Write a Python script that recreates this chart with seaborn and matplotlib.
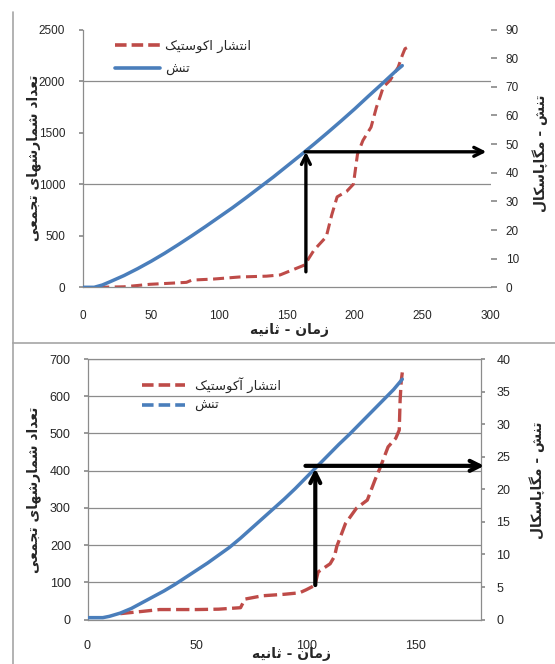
import matplotlib
matplotlib.use("Agg")
import matplotlib.pyplot as plt
import seaborn as sns
from matplotlib.lines import Line2D

# ---- data ----
# top test: time (s), stress (MPa) and cumulative AE counts
top_time_stress = [0, 8, 14, 20, 30, 40, 50, 60, 70, 80, 90, 100, 110, 120, 130, 140,
                   150, 160, 170, 180, 190, 200, 210, 220, 230, 235]
top_stress = [0, 0, 0.8, 2.0, 4.1, 6.5, 9.1, 11.9, 14.9, 18.0, 21.2, 24.5, 27.8, 31.3,
              34.9, 38.5, 42.3, 46.1, 50.0, 54.0, 58.1, 62.3, 66.7, 71.0, 75.4, 77.4]
top_time_ae = [11, 30, 49, 62, 76, 80, 96, 115, 135, 145, 157, 163, 170, 179, 183, 187,
               194, 199, 202, 206, 212, 216, 219, 221, 226, 232, 235, 237, 242]
top_counts = [0, 5, 29, 38, 48, 70, 80, 100, 108, 120, 184, 216, 361, 490, 700, 877,
              930, 1000, 1290, 1424, 1553, 1747, 1860, 1942, 2007, 2135, 2249, 2314, 2346]

# bottom test
bot_time_stress = [0, 7, 10, 15, 20, 25, 30, 35, 40, 45, 50, 55, 60, 65, 70, 75, 80, 85,
                   90, 95, 100, 105, 110, 115, 120, 125, 130, 135, 140, 144]
bot_stress = [0.3, 0.3, 0.5, 1.0, 1.7, 2.6, 3.5, 4.4, 5.4, 6.5, 7.6, 8.7, 9.9, 11.1, 12.5,
              14.0, 15.5, 17.0, 18.5, 20.1, 21.8, 23.5, 25.2, 26.9, 28.5, 30.2, 31.9,
              33.6, 35.3, 36.9]
bot_time_ae = [15, 25, 33, 50, 60, 70, 72, 80, 90, 97, 100, 104, 105.5, 111, 113, 114,
               118, 123, 128, 131.5, 134, 137.5, 141, 142.6, 143, 143.5, 144]
bot_counts = [16, 22, 27, 27, 28, 32, 55, 64, 68, 72, 80, 92, 128, 150, 170, 196,
              258, 299, 321, 375, 410, 464, 487, 509, 589, 640, 664]

# arrows: (time, stress at base, stress at tip, time at right end)
top_arrow = (164, 5.4, 47.3, 297)
bot_arrow = (104.2, 5.3, 23.2, 181.5)

# labels (logical order, shaped below)
lbl_ae = "انتشار اکوستیک"
lbl_ae2 = "انتشار آکوستیک"
lbl_stress = "تنش"
lbl_counts = "تعداد شمارشهای تجمعی"
lbl_stress_axis = "تنش - مگاپاسکال"
lbl_time = "زمان - ثانیه"

# isolated, final, initial, medial presentation forms
FORMS = {
    "ا": ("\uFE8D", "\uFE8E", None, None),
    "آ": ("\uFE81", "\uFE82", None, None),
    "ت": ("\uFE95", "\uFE96", "\uFE97", "\uFE98"),
    "ث": ("\uFE99", "\uFE9A", "\uFE9B", "\uFE9C"),
    "ج": ("\uFE9D", "\uFE9E", "\uFE9F", "\uFEA0"),
    "د": ("\uFEA9", "\uFEAA", None, None),
    "ر": ("\uFEAD", "\uFEAE", None, None),
    "ز": ("\uFEAF", "\uFEB0", None, None),
    "س": ("\uFEB1", "\uFEB2", "\uFEB3", "\uFEB4"),
    "ش": ("\uFEB5", "\uFEB6", "\uFEB7", "\uFEB8"),
    "ع": ("\uFEC9", "\uFECA", "\uFECB", "\uFECC"),
    "ل": ("\uFEDD", "\uFEDE", "\uFEDF", "\uFEE0"),
    "م": ("\uFEE1", "\uFEE2", "\uFEE3", "\uFEE4"),
    "ن": ("\uFEE5", "\uFEE6", "\uFEE7", "\uFEE8"),
    "ه": ("\uFEE9", "\uFEEA", "\uFEEB", "\uFEEC"),
    "و": ("\uFEED", "\uFEEE", None, None),
    "پ": ("\uFB56", "\uFB57", "\uFB58", "\uFB59"),
    "ک": ("\uFB8E", "\uFB8F", "\uFB90", "\uFB91"),
    "گ": ("\uFB92", "\uFB93", "\uFB94", "\uFB95"),
    "ی": ("\uFBFC", "\uFBFD", "\uFBFE", "\uFBFF"),
}


def shape(text):
    out = []
    for i, ch in enumerate(text):
        if ch not in FORMS:
            out.append(ch)
            continue
        prev = text[i - 1] if i > 0 else ""
        nxt = text[i + 1] if i + 1 < len(text) else ""
        iso, fin, ini, med = FORMS[ch]
        j_prev = prev in FORMS and FORMS[prev][2] is not None
        j_next = ini is not None and nxt in FORMS
        if j_prev and j_next:
            out.append(med)
        elif j_prev:
            out.append(fin)
        elif j_next:
            out.append(ini)
        else:
            out.append(iso)
    return "".join(reversed(out))


sns.set_theme(style="white")
plt.rcParams["font.family"] = ["Liberation Sans", "DejaVu Sans"]
FA = ["DejaVu Sans"]

BLUE = "#4a7ebb"
RED = "#be4b48"
GREY = "#8c8c8c"
W, H = 555, 664

fig = plt.figure(figsize=(W / 100, H / 100), dpi=100)


def box(x0, y0, x1, y1):
    return [x0 / W, 1 - y1 / H, (x1 - x0) / W, (y1 - y0) / H]


def ftext(x, y, s, **kw):
    fig.text(x / W, 1 - y / H, shape(s), ha="center", va="center",
             family=FA, fontweight="bold", **kw)


# screenshot frame lines
fig.add_artist(Line2D([12.7 / W, 12.7 / W], [1 - 12 / H, 1 - 343 / H], color="#a6a6a6", lw=1.2))
fig.add_artist(Line2D([13 / W, 1], [1 - 343.3 / H, 1 - 343.3 / H], color="#a6a6a6", lw=1.2))
fig.add_artist(Line2D([13.3 / W, 13.3 / W], [1 - 343 / H, 0], color="#a6a6a6", lw=1.2))

# ---------------- top chart ----------------
ax = fig.add_axes(box(83.3, 29.5, 490.5, 287.3))
ax2 = ax.twinx()
sns.lineplot(x=top_time_ae, y=top_counts, ax=ax, color=RED, lw=2.2,
             linestyle=(0, (3.6, 1.8)), sort=False, estimator=None)
sns.lineplot(x=top_time_stress, y=top_stress, ax=ax2, color=BLUE, lw=2.5,
             sort=False, estimator=None)
ax.set_xlim(0, 300)
ax.set_ylim(0, 2500)
ax2.set_ylim(0, 90)
ax.set_xticks(range(0, 301, 50))
ax.set_yticks(range(0, 2501, 500))
ax2.set_yticks(range(0, 91, 10))
for v in (1000, 2000):
    ax.axhline(v, color=GREY, lw=0.9, zorder=0)
for s in ("top", "right"):
    ax.spines[s].set_visible(False)
for s in ax2.spines.values():
    s.set_visible(False)
for s in ("left", "bottom"):
    ax.spines[s].set_color(GREY)
    ax.spines[s].set_linewidth(0.9)
ax.tick_params(axis="x", direction="out", length=3, color=GREY, pad=13, labelsize=8.5)
ax.tick_params(axis="y", direction="out", length=3, color=GREY, pad=10, labelsize=8.5)
ax2.tick_params(axis="y", direction="out", length=4, color=GREY, pad=7, labelsize=8.5)
ax.set_xlabel("")
ax.set_ylabel("")
ax2.set_ylabel("")

t, b0, b1, xr = top_arrow
ax2.annotate("", xy=(t, b1), xytext=(t, b0), annotation_clip=False,
             arrowprops=dict(arrowstyle="->", lw=2.4, color="black",
                             mutation_scale=16, shrinkA=0, shrinkB=0))
ax2.annotate("", xy=(xr, b1), xytext=(t - 0.6, b1), annotation_clip=False,
             arrowprops=dict(arrowstyle="->", lw=2.4, color="black",
                             mutation_scale=16, shrinkA=0, shrinkB=0))

h_top = [Line2D([], [], color=RED, lw=2.6, linestyle=(0, (3.2, 1.4))),
         Line2D([], [], color=BLUE, lw=2.6)]
ax2.legend(h_top, [shape(lbl_ae), shape(lbl_stress)], loc="upper left",
           bbox_to_anchor=(0.078, 0.96), frameon=False, borderpad=0, borderaxespad=0,
           handlelength=3.4, handletextpad=0.4, labelspacing=0.75,
           prop={"family": FA, "size": 9.5})

ftext(289.5, 330, lbl_time, fontsize=10)
ftext(33.5, 158, lbl_counts, fontsize=10, rotation=90)
ftext(540, 153, lbl_stress_axis, fontsize=10, rotation=90)

# ---------------- bottom chart ----------------
bx = fig.add_axes(box(87.5, 359, 481, 619.6))
bx2 = bx.twinx()
sns.lineplot(x=bot_time_ae, y=bot_counts, ax=bx, color=RED, lw=2.4,
             linestyle=(0, (4, 1.6)), sort=False, estimator=None)
sns.lineplot(x=bot_time_stress, y=bot_stress, ax=bx2, color=BLUE, lw=2.5,
             sort=False, estimator=None)
bx.set_xlim(0, 180)
bx.set_ylim(0, 700)
bx2.set_ylim(0, 40)
bx.set_xticks(range(0, 151, 50))
bx.set_yticks(range(0, 701, 100))
bx2.set_yticks(range(0, 41, 5))
bx.set_axisbelow(True)
bx.yaxis.grid(True, color=GREY, lw=0.9)
bx.xaxis.grid(False)
for s in bx.spines.values():
    s.set_color(GREY)
    s.set_linewidth(0.9)
for s in bx2.spines.values():
    s.set_visible(False)
bx.tick_params(axis="x", direction="out", length=3, color=GREY, pad=12, labelsize=9)
bx.tick_params(axis="y", direction="out", length=3, color=GREY, pad=9, labelsize=9)
bx2.tick_params(axis="y", direction="out", length=3, color=GREY, pad=8, labelsize=9)
bx.set_xlabel("")
bx.set_ylabel("")
bx2.set_ylabel("")

t, b0, b1, xr = bot_arrow
bx2.annotate("", xy=(t, b1), xytext=(t, b0), annotation_clip=False,
             arrowprops=dict(arrowstyle="->", lw=3, color="black",
                             mutation_scale=18, shrinkA=0, shrinkB=0))
bx2.annotate("", xy=(xr, b1 + 0.4), xytext=(t - 4.5, b1 + 0.4), annotation_clip=False,
             arrowprops=dict(arrowstyle="->", lw=3, color="black",
                             mutation_scale=18, shrinkA=0, shrinkB=0))

h_bot = [Line2D([], [], color=RED, lw=2.6, linestyle=(0, (3.2, 1.4))),
         Line2D([], [], color=BLUE, lw=2.6, linestyle=(0, (3.2, 1.4)))]
bx2.legend(h_bot, [shape(lbl_ae2), shape(lbl_stress)], loc="upper left",
           bbox_to_anchor=(0.138, 0.93), frameon=False, borderpad=0, borderaxespad=0,
           handlelength=3.3, handletextpad=0.7, labelspacing=0.45,
           prop={"family": FA, "size": 9.5})

ftext(291, 654, lbl_time, fontsize=10)
ftext(33.7, 490, lbl_counts, fontsize=10, rotation=90)
ftext(537, 480, lbl_stress_axis, fontsize=10, rotation=90)

fig.savefig("out.png", dpi=100)
